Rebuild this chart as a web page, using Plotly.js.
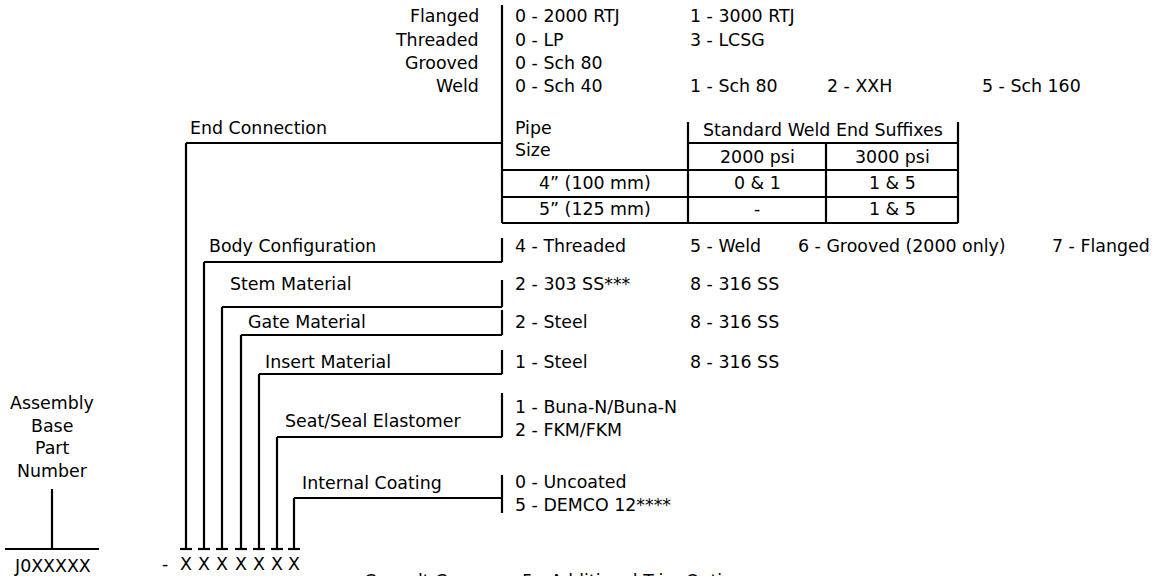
<!DOCTYPE html>
<html>
<head>
<meta charset="utf-8">
<script src="https://cdn.plot.ly/plotly-3.0.1.min.js"></script>
<style>html,body{margin:0;padding:0;background:#fff;}#chart{width:1158px;height:576px;}</style>
</head>
<body>
<div id="chart"></div>
<script>
// ---------- content ----------
const fields = ["End Connection", "Body Configuration", "Stem Material", "Gate Material",
                "Insert Material", "Seat/Seal Elastomer", "Internal Coating"];
const endTypes = ["Flanged", "Threaded", "Grooved", "Weld"];
const endOptions = [
  ["0 - 2000 RTJ", "1 - 3000 RTJ"],
  ["0 - LP", "3 - LCSG"],
  ["0 - Sch 80"],
  ["0 - Sch 40", "1 - Sch 80", "2 - XXH", "5 - Sch 160"]
];
const tableHeader = ["Pipe", "Size", "Standard Weld End Suffixes", "2000 psi", "3000 psi"];
const pipeSizes = ["4\u201D (100 mm)", "5\u201D (125 mm)"];
const suffix2000 = ["0 & 1", "-"];
const suffix3000 = ["1 & 5", "1 & 5"];
const bodyOptions = ["4 - Threaded", "5 - Weld", "6 - Grooved (2000 only)", "7 - Flanged"];
const stemOptions = ["2 - 303 SS***", "8 - 316 SS"];
const gateOptions = ["2 - Steel", "8 - 316 SS"];
const insertOptions = ["1 - Steel", "8 - 316 SS"];
const sealOptions = ["1 - Buna-N/Buna-N", "2 - FKM/FKM"];
const coatingOptions = ["0 - Uncoated", "5 - DEMCO 12****"];
const baseLabel = ["Assembly", "Base", "Part", "Number"];
const basePart = "J0XXXXX";
const digitChar = "X";
const footer = ["Consult Cameron", "5 - Additional Trim Options"];

// ---------- layout geometry (pixels) ----------
const G = {
  spineX: 502, spineTop: 5,
  bracketX: [186, 204, 222, 241, 259, 277, 294],
  bracketY: [143, 262, 307, 335, 374, 437, 498],
  stubTop: [null, 238, 280, 310, 350, 393, 475],
  stubBot: [null, 262, 307, 335, 374, 437, 513],
  labelX: [188, 207, 228, 246, 263, 283, 300],
  labelY: [128, 246, 284, 322, 362, 421, 483],
  teeY: 549, teeHalf: 6, xY: 564, dashX: 165,
  typeRight: 481, typeY: [16, 40, 63, 86],
  optX: [[513, 688], [513, 688], [513], [513, 688, 825, 980]],
  colA: 513, colB: 688, colC: 796, colD: 1050,
  tbl: {x0: 502, x1: 688, x2: 826, x3: 958, yTop: 122, yHead: 143, yR1: 170, yR2: 197, yBot: 223,
        pipeY: 128, sizeY: 150, headY: 130, psiY: 157, rowY: [183, 209]},
  sealY: [407, 430], coatY: [482, 505],
  baseX: 52, baseY: [403, 426, 448, 471], baseLineTop: 489, baseBarX: [5, 99], baseTextY: 566,
  footX: [362, 520], footY: 569
};

const FONT = {family: "DejaVu Sans", size: 17.4, color: "#000"};
const ann = [];
function txt(t, x, y, anchor, vanchor) {
  ann.push({text: t, x: x, y: y, xref: "x", yref: "y", showarrow: false,
            xanchor: anchor || "left", yanchor: vanchor || "middle", font: FONT});
}

// line segments
const lx = [], ly = [];
function seg(x0, y0, x1, y1) { lx.push(x0, x1, null); ly.push(y0, y1, null); }

// spine & table
const T = G.tbl;
seg(G.spineX, G.spineTop, G.spineX, T.yBot);
seg(T.x1, T.yHead, T.x3, T.yHead);
seg(T.x0, T.yR1, T.x3, T.yR1);
seg(T.x0, T.yR2, T.x3, T.yR2);
seg(T.x0, T.yBot, T.x3, T.yBot);
seg(T.x1, T.yTop, T.x1, T.yBot);
seg(T.x3, T.yTop, T.x3, T.yBot);
seg(T.x2, T.yHead, T.x2, T.yBot);

// brackets
fields.forEach((f, i) => {
  const bx = G.bracketX[i], by = G.bracketY[i];
  seg(bx, by, G.spineX, by);
  seg(bx, by, bx, G.teeY);
  seg(bx - G.teeHalf, G.teeY, bx + G.teeHalf, G.teeY);
  if (G.stubTop[i] !== null) seg(G.spineX, G.stubTop[i], G.spineX, G.stubBot[i]);
  txt(f, G.labelX[i], G.labelY[i]);
  txt(digitChar, bx, G.xY, "center");
});
txt("-", G.dashX, G.xY, "center");

// end connection types
endTypes.forEach((t, i) => {
  txt(t, G.typeRight, G.typeY[i], "right");
  endOptions[i].forEach((o, j) => txt(o, G.optX[i][j], G.typeY[i]));
});

// table text
txt(tableHeader[0], G.colA, T.pipeY);
txt(tableHeader[1], G.colA, T.sizeY);
txt(tableHeader[2], (T.x1 + T.x3) / 2, T.headY, "center");
txt(tableHeader[3], (T.x1 + T.x2) / 2, T.psiY, "center");
txt(tableHeader[4], (T.x2 + T.x3) / 2, T.psiY, "center");
pipeSizes.forEach((p, i) => {
  txt(p, (T.x0 + T.x1) / 2, T.rowY[i], "center");
  txt(suffix2000[i], (T.x1 + T.x2) / 2, T.rowY[i], "center");
  txt(suffix3000[i], (T.x2 + T.x3) / 2, T.rowY[i], "center");
});

// option rows
const bodyX = [G.colA, G.colB, G.colC, G.colD];
bodyOptions.forEach((o, j) => txt(o, bodyX[j], G.labelY[1]));
[stemOptions, gateOptions, insertOptions].forEach((opts, k) => {
  opts.forEach((o, j) => txt(o, j === 0 ? G.colA : G.colB, G.labelY[2 + k]));
});
sealOptions.forEach((o, j) => txt(o, G.colA, G.sealY[j]));
coatingOptions.forEach((o, j) => txt(o, G.colA, G.coatY[j]));

// base part number
baseLabel.forEach((b, i) => txt(b, G.baseX, G.baseY[i], "center"));
seg(G.baseX, G.baseLineTop, G.baseX, G.teeY);
seg(G.baseBarX[0], G.teeY, G.baseBarX[1], G.teeY);
txt(basePart, G.baseX, G.baseTextY, "center");

// footer (cut off at bottom edge)
footer.forEach((f, i) => txt(f, G.footX[i], G.footY, "left", "top"));

const traces = [{
  x: lx, y: ly, type: "scatter", mode: "lines",
  line: {color: "#000", width: 2.2}, hoverinfo: "skip", showlegend: false
}];

const layout = {
  width: 1158, height: 576,
  margin: {l: 0, r: 0, t: 0, b: 0},
  paper_bgcolor: "#fff", plot_bgcolor: "#fff",
  xaxis: {range: [0, 1158], visible: false, fixedrange: true},
  yaxis: {range: [576, 0], visible: false, fixedrange: true},
  annotations: ann, showlegend: false
};
Plotly.newPlot("chart", traces, layout, {displayModeBar: false, staticPlot: true});
</script>
</body>
</html>
